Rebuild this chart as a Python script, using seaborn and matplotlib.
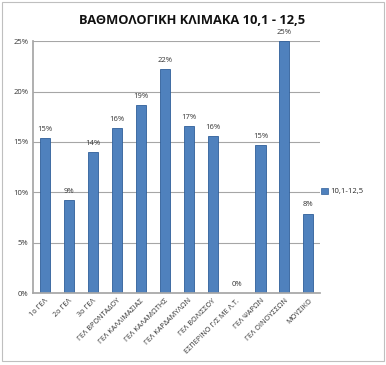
import numpy as np
import pandas as pd
import matplotlib
matplotlib.use("Agg")
import matplotlib.pyplot as plt
import seaborn as sns
from matplotlib.patches import Rectangle

schools = ["1ο ΓΕΛ", "2ο ΓΕΛ", "3ο ΓΕΛ", "ΓΕΛ ΒΡΟΝΤΑΔΟΥ", "ΓΕΛ ΚΑΛΛΙΜΑΣΙΑΣ",
           "ΓΕΛ ΚΑΛΑΜΩΤΗΣ", "ΓΕΛ ΚΑΡΔΑΜΥΛΩΝ", "ΓΕΛ ΒΟΛΙΣΣΟΥ",
           "ΕΣΠΕΡΙΝΟ Γ/Σ ΜΕ Λ.Τ.", "ΓΕΛ ΨΑΡΩΝ", "ΓΕΛ ΟΙΝΟΥΣΣΩΝ", "ΜΟΥΣΙΚΟ"]
share = [15.4, 9.2, 14.0, 16.4, 18.7, 22.2, 16.6, 15.6, 0.0, 14.7, 25.0, 7.9]
series_name = "10,1-12,5"
title = "ΒΑΘΜΟΛΟΓΙΚΗ ΚΛΙΜΑΚΑ 10,1 - 12,5"
yticks = [0, 5, 10, 15, 20, 25]

df = pd.DataFrame({"school": schools, "share": share, "series": series_name})

sns.set_theme(style="white")
plt.rcParams['font.family'] = ['Open Sans', 'DejaVu Sans']

fig = plt.figure(figsize=(3.86, 3.65), dpi=100)
ax = fig.add_axes([0.085, 0.197, 0.745, 0.69])

sns.barplot(data=df, x="school", y="share", hue="series", ax=ax,
            palette=["#4f81bd"], saturation=1, width=0.42,
            edgecolor="#2f5f9a", linewidth=0.6, legend=False)

for p, v in zip(ax.patches, share):
    ax.text(p.get_x() + p.get_width() / 2, v + 0.5, f"{round(v):d}%",
            ha="center", va="bottom", fontsize=5.5, color="#333333")

ax.set_ylim(0, 25)
ax.set_xlim(-0.5, len(schools) - 0.5)
ax.set_yticks(yticks)
ax.set_yticklabels([f"{t}%" for t in yticks], fontsize=5.5, color="#333333")
ax.set_xticks(range(len(schools)))
ax.set_xticklabels(schools, rotation=45, ha="right", rotation_mode="anchor",
                   fontsize=5.2, color="#333333")
ax.tick_params(axis="both", length=0, pad=3)
ax.set_xlabel("")
ax.set_ylabel("")
ax.yaxis.grid(True, color="#a6a6a6", linewidth=0.8)
ax.set_axisbelow(True)
for s in ["top", "right"]:
    ax.spines[s].set_visible(False)
ax.spines["left"].set_color("#a6a6a6")
ax.spines["bottom"].set_color("#a6a6a6")

fig.text(0.497, 0.945, title, ha="center", va="center", fontsize=9.3,
         fontweight="bold", color="#111111")

handle = Rectangle((0, 0), 1, 1, facecolor="#4f81bd", edgecolor="#2f5f9a", linewidth=0.5)
fig.legend([handle], [series_name], loc="center left", bbox_to_anchor=(0.815, 0.475),
           frameon=False, fontsize=5.5, handlelength=0.8, handleheight=0.8,
           handletextpad=0.4)

fig.patches.append(Rectangle((0.004, 0.012), 0.99, 0.983, transform=fig.transFigure,
                             fill=False, edgecolor="#bfbfbf", linewidth=0.8))

fig.savefig("out.png", dpi=100)
